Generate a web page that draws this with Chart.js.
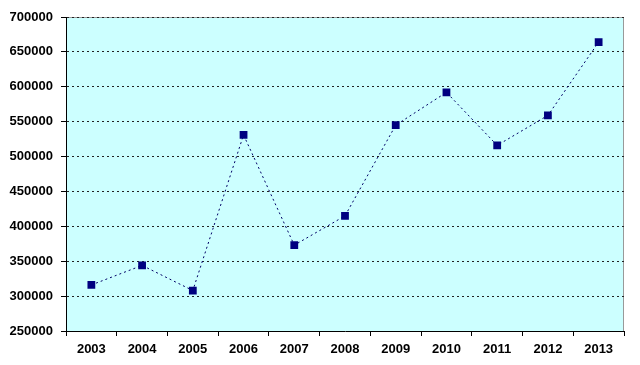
<!DOCTYPE html>
<html><head><meta charset="utf-8">
<script src="https://cdn.jsdelivr.net/npm/chart.js@4/dist/chart.umd.min.js"></script>
<style>html,body{margin:0;padding:0;background:#fff}#wrap{width:640px;height:365px}</style>
</head><body><div id="wrap"><canvas id="c" width="640" height="365"></canvas></div>
<script>
const years = ['2003','2004','2005','2006','2007','2008','2009','2010','2011','2012','2013'];
const values = [316000, 344000, 308000, 531000, 373000, 415000, 545000, 592000, 516000, 559000, 664000];
const yMin = 250000, yMax = 700000, yStep = 50000;

const bgPlugin = {
  id: 'bg',
  beforeDraw(chart) {
    const {ctx, chartArea: a} = chart;
    ctx.save();
    ctx.fillStyle = '#CCFFFF';
    ctx.fillRect(a.left, a.top, a.right - a.left, a.bottom - a.top);
    ctx.strokeStyle = '#999999';
    ctx.lineWidth = 1;
    ctx.beginPath();
    ctx.moveTo(a.left, a.top + 0.5);
    ctx.lineTo(a.right - 0.5, a.top + 0.5);
    ctx.lineTo(a.right - 0.5, a.bottom);
    ctx.stroke();
    ctx.restore();
  }
};

new Chart(document.getElementById('c'), {
  type: 'line',
  data: {
    labels: years,
    datasets: [{
      data: values,
      borderColor: '#000066',
      borderWidth: 1,
      borderDash: [2, 3],
      pointStyle: 'rect',
      pointRadius: 5.5,
      pointBackgroundColor: '#000080',
      pointBorderColor: '#000080',
      pointBorderWidth: 0,
      tension: 0,
      fill: false
    }]
  },
  options: {
    responsive: false,
    animation: false,
    layout: {padding: {top: 17, right: 16, left: 0, bottom: 0}},
    plugins: {legend: {display: false}, tooltip: {enabled: false}},
    scales: {
      x: {
        offset: true,
        grid: {offset: true, drawOnChartArea: false, drawTicks: true, tickLength: 5, color: '#000', tickBorderDash: [1, 0]},
        border: {display: true, color: '#000', width: 1},
        ticks: {color: '#000', font: {family: 'Liberation Sans', size: 13, weight: 'bold'}, padding: 6, maxRotation: 0},
        afterFit(s) { s.height = 34; }
      },
      y: {
        min: yMin, max: yMax,
        grid: {color: '#222', lineWidth: 1, drawTicks: true, tickLength: 5, tickColor: '#000', tickBorderDash: [1, 0]},
        border: {display: true, color: '#000', width: 1, dash: [2, 3]},
        ticks: {stepSize: yStep, color: '#000', font: {family: 'Liberation Sans', size: 13, weight: 'bold'}, padding: 8,
          callback: (v) => String(v)},
        afterFit(s) { s.width = 66; }
      }
    }
  },
  plugins: [bgPlugin]
});
</script>
</body></html>
